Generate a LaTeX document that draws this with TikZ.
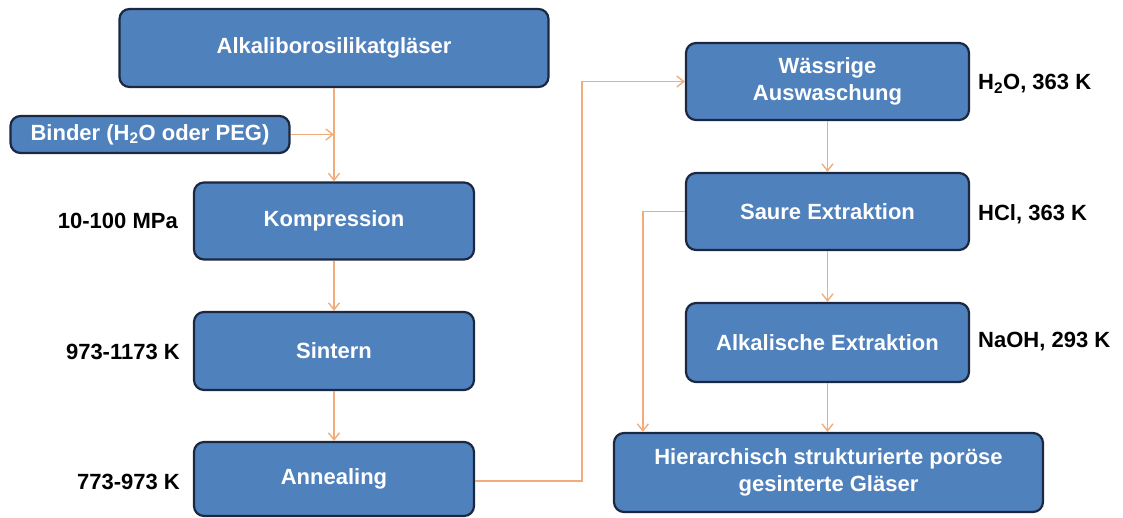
\documentclass[tikz,border=0pt]{standalone}
\usepackage{fontspec}
\setmainfont{Liberation Sans}
\usepackage{tikz}
\usetikzlibrary{calc}
\usetikzlibrary{arrows.meta}

\definecolor{boxfill}{RGB}{79,129,189}
\definecolor{boxborder}{RGB}{28,40,66}
\definecolor{pfeil}{RGB}{242,172,122}

\begin{document}
\begin{tikzpicture}[x=1pt, y=-1pt,
	stufe/.style = {draw = boxborder, line width = 2.2pt, fill = boxfill, rounded corners = 10pt, text = white, font = \bfseries\fontsize{22}{27}\selectfont, align = center, inner sep = 0pt},
	bedingung/.style = {font = \bfseries\fontsize{22}{27}\selectfont, inner sep = 0pt},
	fluss/.style = {draw = pfeil, line width = 1.4pt, -{Straight Barb[length = 7pt, width = 11pt]}}]

	\useasboundingbox (0,0) rectangle (1123,517);

	% columns
	\def \leftCol {334};
	\def \rightCol {827.5};

	% left column: preparation
	\node [stufe, minimum width = 429, minimum height = 78] (alkali) at (\leftCol, 48) {Alkaliborosilikatgläser};
	\node [stufe, minimum width = 279, minimum height = 37] (binder) at (150, 134.5) {Binder (H\textsubscript{2}O oder PEG)};
	\node [stufe, minimum width = 280, minimum height = 77] (kompression) at (\leftCol, 221) {Kompression};
	\node [stufe, minimum width = 280, minimum height = 78] (sintern) at (\leftCol, 351) {Sintern};
	\node [stufe, minimum width = 280, minimum height = 74] (annealing) at (\leftCol, 479) {Annealing};

	% conditions left
	\node [bedingung, anchor = east] (druck) at (178, 221) {10-100 MPa};
	\node [bedingung, anchor = east] (sinterT) at (180, 352) {973-1173 K};
	\node [bedingung, anchor = east] (annealT) at (180, 482) {773-973 K};

	% right column: extraction
	\node [stufe, minimum width = 283, minimum height = 77] (waessrig) at (\rightCol, 81.5) {Wässrige\\Auswaschung};
	\node [stufe, minimum width = 283, minimum height = 77] (saure) at (\rightCol, 211.5) {Saure Extraktion};
	\node [stufe, minimum width = 283, minimum height = 79] (alkalisch) at (\rightCol, 342.5) {Alkalische Extraktion};
	\node [stufe, minimum width = 429, minimum height = 79] (poroes) at (828.5, 472.5) {Hierarchisch strukturierte poröse\\gesinterte Gläser};

	% conditions right
	\node [bedingung, anchor = west] (wasserT) at (978, 84) {H\textsubscript{2}O, 363 K};
	\node [bedingung, anchor = west] (saeureT) at (978, 214) {HCl, 363 K};
	\node [bedingung, anchor = west] (laugeT) at (978, 342) {NaOH, 293 K};

	% arrows left column
	\coordinate (einmuendung) at (alkali.south |- binder.east);
	\draw [fluss] (alkali.south) -- (kompression.north);
	\draw [fluss] (binder.east) -- (einmuendung);
	\draw [fluss] (kompression.south) -- (sintern.north);
	\draw [fluss] (sintern.south) -- (annealing.north);

	% crossing to the right column
	\draw [fluss] ($(annealing.east) + (0,2)$) -- ++(107,0) |- (waessrig.west);

	% arrows right column
	\draw [fluss] (waessrig.south) -- (saure.north);
	\draw [fluss] (saure.south) -- (alkalisch.north);
	\draw [fluss] (alkalisch.south) -- (poroes.north -| alkalisch.south);
	\draw [fluss] (saure.west) -| ($(poroes.north west) + (30,0)$);

\end{tikzpicture}
\end{document}
